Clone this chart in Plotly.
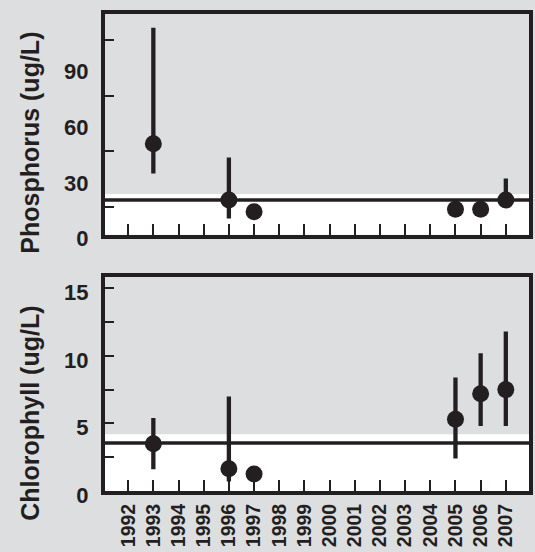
import plotly.graph_objects as go
from plotly.subplots import make_subplots

years = list(range(1992, 2008))
year_labels = [str(y) for y in years]

# Phosphorus (ug/L)
p_years = [1993, 1996, 1997, 2005, 2006, 2007]
p_mean = [49, 18.7, 12.4, 13.8, 13.8, 18.7]
p_high = [111.5, 41.6, 12.4, 13.8, 13.8, 30.3]
p_low = [33, 8.8, 12.4, 13.8, 13.8, 16]
p_standard = 18.7
p_band = 21.9
p_ticks = [0, 30, 60, 90]
p_minor = [15, 45, 75, 105]

# Chlorophyll (ug/L)
c_years = [1993, 1996, 1997, 2005, 2006, 2007]
c_mean = [3.5, 1.65, 1.25, 5.3, 7.2, 7.5]
c_high = [5.4, 7.0, 1.25, 8.4, 10.2, 11.8]
c_low = [1.6, 0.7, 1.25, 2.4, 4.8, 4.8]
c_standard = 3.55
c_band = 4.2
c_ticks = [0, 5, 10, 15]
c_minor = [2.5, 5, 7.5, 10, 12.5, 15]

BG = "#dddee0"
INK = "#231f20"
FONT = "Liberation Sans"
LW = 4  # frame line width


def padded_x(lo, hi, px):
    u = (hi - lo) / px * LW / 2
    return [lo + u, hi - u]


def padded_top(lo, hi, px):
    u = (hi - lo) / px * LW / 2
    return [lo, hi - u]


fig = make_subplots(rows=2, cols=1, vertical_spacing=0.0)


def add_series(xs, mean, hi, lo, row):
    fig.add_trace(go.Scatter(
        x=xs, y=mean, mode="markers",
        marker=dict(size=17, color=INK),
        error_y=dict(type="data", symmetric=False,
                     array=[h - m for h, m in zip(hi, mean)],
                     arrayminus=[m - l for m, l in zip(mean, lo)],
                     thickness=4.3, width=0, color=INK),
        showlegend=False), row=row, col=1)


add_series(p_years, p_mean, p_high, p_low, 1)
add_series(c_years, c_mean, c_high, c_low, 2)

for yref, band, std in (("y", p_band, p_standard), ("y2", c_band, c_standard)):
    xd = "x domain" if yref == "y" else "x2 domain"
    fig.add_shape(type="rect", xref=xd, yref=yref, x0=0, x1=1, y0=-5, y1=band,
                  fillcolor="white", line_width=0, layer="below")
    fig.add_shape(type="line", xref=xd, yref=yref, x0=0, x1=1, y0=std, y1=std,
                  line=dict(color=INK, width=3.5), layer="below")

fig.update_xaxes(range=padded_x(1991, 2008, 428), tickvals=years, ticktext=year_labels,
                 ticks="inside", ticklen=11, tickwidth=2, tickcolor=INK,
                 showline=True, linewidth=LW, linecolor=INK, mirror=True,
                 showgrid=False, zeroline=False,
                 tickfont=dict(family=FONT, size=19.5, color=INK, weight="bold"))
fig.update_xaxes(showticklabels=False, row=1, col=1)
fig.update_xaxes(tickangle=-90, ticklabelstandoff=1, row=2, col=1)

fig.update_yaxes(showline=True, linewidth=LW, linecolor=INK, mirror=True,
                 showgrid=False, zeroline=False, ticks="",
                 tickfont=dict(family=FONT, size=22, color=INK, weight="bold"),
                 ticklabelshift=4, ticklabelstandoff=8)
fig.update_yaxes(range=padded_top(0, 120, 223), tickvals=p_ticks,
                 minor=dict(tickvals=p_minor, ticks="inside",
                            ticklen=9, tickwidth=2, tickcolor=INK),
                 domain=[0.5372, 1], row=1, col=1)
fig.update_yaxes(range=padded_top(0, 16, 216.5), tickvals=c_ticks,
                 minor=dict(tickvals=c_minor, ticks="inside",
                            ticklen=9, tickwidth=2, tickcolor=INK),
                 domain=[0, 0.4492], row=2, col=1)

fig.update_layout(
    width=535, height=552,
    margin=dict(l=105, r=6, t=14, b=60.5, autoexpand=False),
    paper_bgcolor=BG, plot_bgcolor=BG,
    font=dict(family=FONT, color=INK),
    annotations=[
        dict(text="Phosphorus (ug/L)", textangle=-90, xref="paper", yref="paper",
             x=-0.177, y=0.73, xanchor="center", yanchor="middle", showarrow=False,
             font=dict(family=FONT, size=25, color=INK, weight="bold")),
        dict(text="Chlorophyll (ug/L)", textangle=-90, xref="paper", yref="paper",
             x=-0.177, y=0.164, xanchor="center", yanchor="middle", showarrow=False,
             font=dict(family=FONT, size=25, color=INK, weight="bold")),
    ],
)

fig.write_html("out.html", config={"displayModeBar": False},
               post_script="document.body.style.margin='0';document.body.style.background='%s';" % BG)
